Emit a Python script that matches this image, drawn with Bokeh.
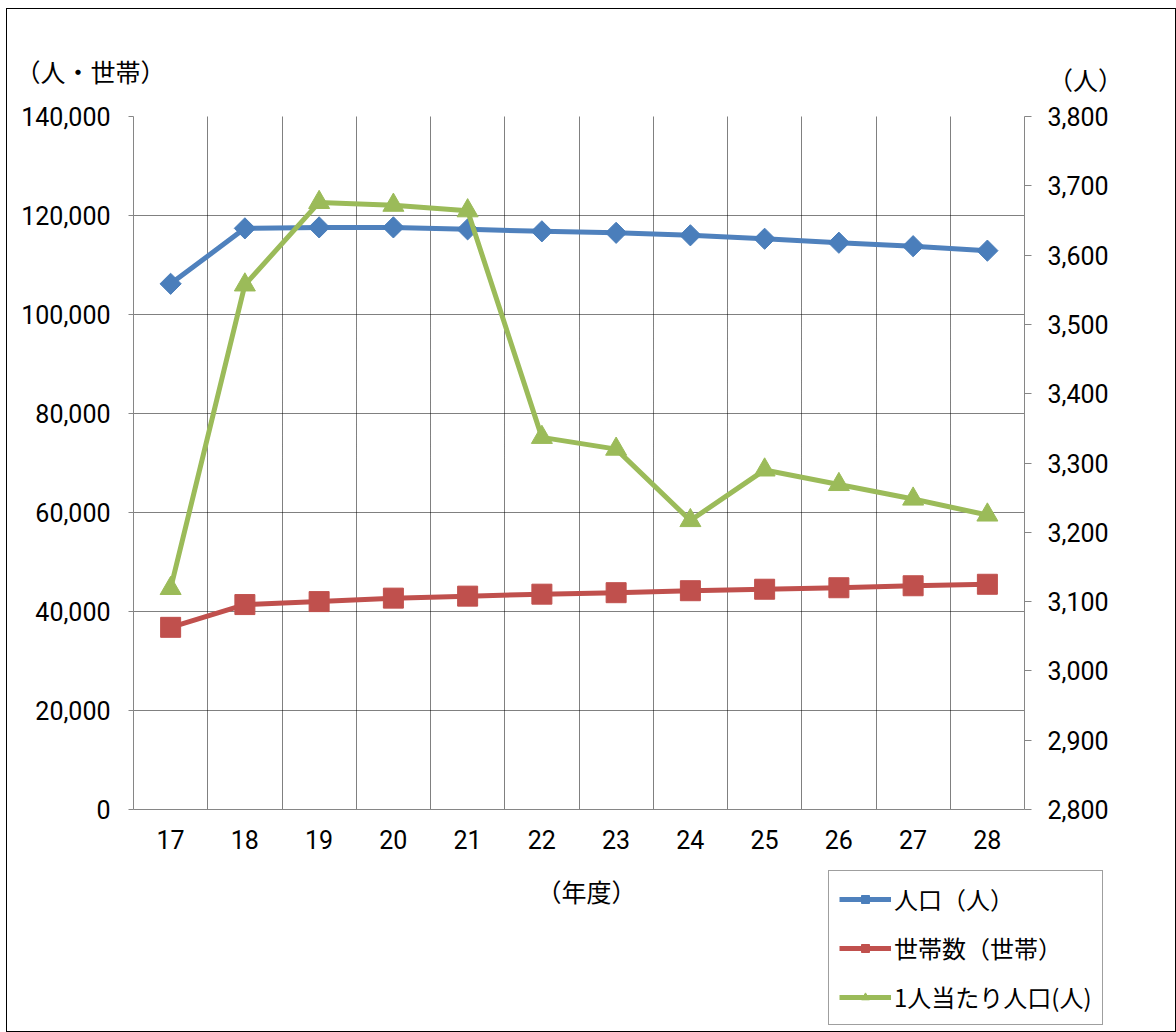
import math
from bokeh.plotting import figure
from bokeh.layouts import column
from bokeh.models import (FactorRange, Range1d, LinearAxis, SingleIntervalTicker, FixedTicker,
                          NumeralTickFormatter, Legend, LegendItem, Label)
from bokeh.embed import file_html
from bokeh.resources import INLINE

# ---- data ----
years = ["17", "18", "19", "20", "21", "22", "23", "24", "25", "26", "27", "28"]
population = [106200, 117400, 117600, 117600, 117200, 116800, 116500, 116000, 115300, 114500, 113800, 112900]
households = [36800, 41400, 42000, 42700, 43100, 43500, 43800, 44200, 44500, 44800, 45200, 45500]
per_person = [3119, 3557, 3676, 3672, 3664, 3337, 3320, 3217, 3290, 3269, 3248, 3225]
series_labels = ["人口（人）", "世帯数（世帯）", "1人当たり人口(人)"]
left_title = "（人・世帯）"
right_title = "（人）"
x_title = "（年度）"
y_max = 140000
y2_min, y2_max = 2800, 3800

CJK = "Noto Sans CJK JP"
NUM = "Roboto"
BLUE, RED, GREEN = "#4F81BD", "#C0504D", "#9BBB59"
BLUE_MK = "#4A7EBB"
AXIS_GRAY = "#868686"

# ---- layout geometry (page pixels) ----
PAGE_X, PAGE_Y = 7, 9            # left/top of the drawing area (margin + border)
W = 1168
TOP_H = 87                        # strip holding the unit titles
MAIN_TOP, MAIN_BOTTOM = 20, 57    # borders of the main figure around its frame
FRAME_L, FRAME_R, FRAME_T, FRAME_B = 133, 1024, 116, 809
BOTTOM_H = 165                    # strip holding the x title and the legend

mb_left = FRAME_L - PAGE_X
mb_right = W - mb_left - (FRAME_R - FRAME_L)
main_h = MAIN_TOP + (FRAME_B - FRAME_T) + MAIN_BOTTOM
top_y0 = PAGE_Y
bot_y0 = PAGE_Y + TOP_H + main_h


def strip(height):
    f = figure(width=W, height=height, x_range=Range1d(0, 1), y_range=Range1d(0, 1),
               x_axis_type=None, y_axis_type=None, output_backend="svg",
               toolbar_location=None, min_border=0, frame_align=False)
    f.outline_line_color = None
    f.grid.visible = False
    f.background_fill_color = "white"
    f.border_fill_color = "white"
    return f


def text_label(text, cx, cy, y0, height):
    return Label(x=cx - PAGE_X, y=(y0 + height) - cy, x_units="screen", y_units="screen",
                 text=text, text_font=CJK, text_font_size="25px", text_baseline="middle",
                 text_align="center", text_color="#000000")


# ---- top strip: unit titles ----
top = strip(TOP_H)
top.add_layout(text_label(left_title, 90, 70, top_y0, TOP_H))
top.add_layout(text_label(right_title, 1085, 78, top_y0, TOP_H))

# ---- main chart ----
p = figure(width=W, height=main_h,
           x_range=FactorRange(factors=years),
           y_range=Range1d(0, y_max),
           output_backend="svg", toolbar_location=None, frame_align=False,
           min_border_left=mb_left, min_border_right=mb_right,
           min_border_top=MAIN_TOP, min_border_bottom=MAIN_BOTTOM)
p.outline_line_color = None
p.background_fill_color = "white"
p.border_fill_color = "white"
p.extra_y_ranges = {"right": Range1d(y2_min, y2_max)}

p.ygrid.ticker = SingleIntervalTicker(interval=20000)
p.ygrid.grid_line_color = "#000000"
p.ygrid.grid_line_dash = "1 1"
p.ygrid.grid_line_width = 1
p.xgrid.ticker = FixedTicker(ticks=list(range(1, len(years))))
p.xgrid.grid_line_color = "#000000"
p.xgrid.grid_line_dash = "1 1"
p.xgrid.grid_line_width = 1

ya = p.yaxis[0]
ya.ticker = SingleIntervalTicker(interval=20000)
ya.formatter = NumeralTickFormatter(format="0,0")
ya.axis_line_color = AXIS_GRAY
ya.major_tick_line_color = AXIS_GRAY
ya.major_tick_out = 5
ya.major_tick_in = 0
ya.minor_tick_line_color = None
ya.major_label_text_font = NUM
ya.major_label_text_font_size = "25px"
ya.major_label_text_color = "#000000"
ya.major_label_standoff = 18

ra = LinearAxis(y_range_name="right", ticker=SingleIntervalTicker(interval=100),
                formatter=NumeralTickFormatter(format="0,0"))
ra.axis_line_color = AXIS_GRAY
ra.major_tick_line_color = AXIS_GRAY
ra.major_tick_out = 7
ra.major_tick_in = 0
ra.minor_tick_line_color = None
ra.major_label_text_font = NUM
ra.major_label_text_font_size = "25px"
ra.major_label_text_color = "#000000"
ra.major_label_standoff = 16
p.add_layout(ra, "right")

xa = p.xaxis[0]
xa.axis_line_color = AXIS_GRAY
xa.major_tick_line_color = None
xa.major_tick_out = 0
xa.major_tick_in = 0
xa.major_label_text_font = NUM
xa.major_label_text_font_size = "25px"
xa.major_label_text_color = "#000000"
xa.major_label_standoff = 20

p.line(years, population, line_color=BLUE, line_width=5, line_join="round")
p.scatter(years, population, marker="square", angle=math.pi / 4, size=15,
          fill_color=BLUE_MK, line_color=BLUE_MK)
p.line(years, households, line_color=RED, line_width=5, line_join="round")
p.scatter(years, households, marker="square", size=20, fill_color=RED, line_color=RED)
p.line(years, per_person, line_color=GREEN, line_width=5, line_join="round", y_range_name="right")
p.scatter(years, per_person, marker="triangle", size=21, fill_color=GREEN, line_color=GREEN,
          y_range_name="right")

# ---- bottom strip: x title and legend ----
bot = strip(BOTTOM_H)
bot.add_layout(text_label(x_title, 586, 890, bot_y0, BOTTOM_H))

# legend swatches styled like the series (a single NaN point: nothing is drawn in the strip)
nan = [float("nan")]
k1 = bot.line(nan, nan, line_color=BLUE, line_width=5)
m1 = bot.scatter(nan, nan, marker="square", angle=math.pi / 4, size=15, fill_color=BLUE_MK, line_color=BLUE_MK)
k2 = bot.line(nan, nan, line_color=RED, line_width=5)
m2 = bot.scatter(nan, nan, marker="square", size=20, fill_color=RED, line_color=RED)
k3 = bot.line(nan, nan, line_color=GREEN, line_width=5)
m3 = bot.scatter(nan, nan, marker="triangle", size=21, fill_color=GREEN, line_color=GREEN)

LEG_L, LEG_B = 828, 1025
legend = Legend(items=[LegendItem(label=series_labels[0], renderers=[k1, m1]),
                       LegendItem(label=series_labels[1], renderers=[k2, m2]),
                       LegendItem(label=series_labels[2], renderers=[k3, m3])],
                location=(LEG_L - PAGE_X, (bot_y0 + BOTTOM_H) - LEG_B))
legend.label_text_font = CJK
legend.label_text_font_size = "24px"
legend.label_text_color = "#000000"
legend.glyph_width = 52
legend.glyph_height = 20
legend.label_standoff = 3
legend.padding = 10
legend.spacing = 14
legend.margin = 0
legend.border_line_color = "#404040"
legend.border_line_width = 1
legend.background_fill_color = "white"
legend.background_fill_alpha = 1
bot.add_layout(legend)

page = column(top, p, bot, spacing=0)
page.styles = {"border": "1px solid #000000", "margin-left": "6px", "margin-top": "8px"}

open("out.html", "w").write(file_html(page, INLINE))
